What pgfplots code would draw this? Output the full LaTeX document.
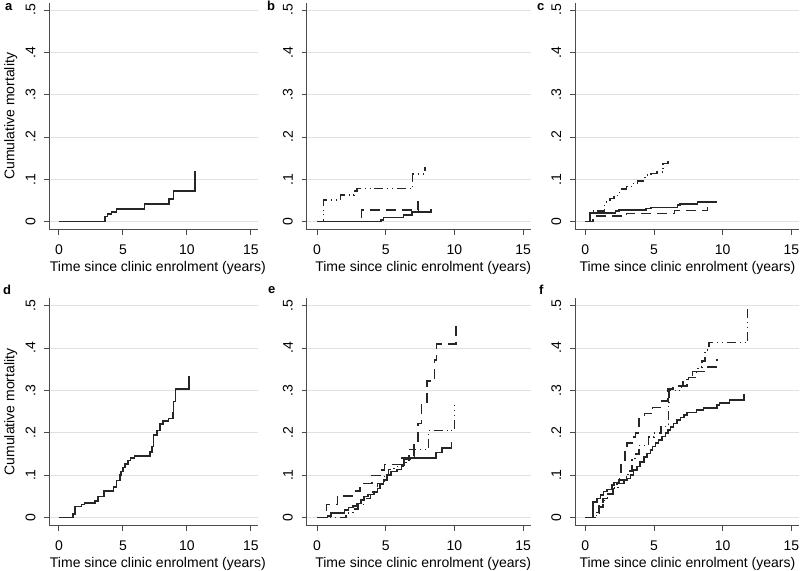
\documentclass[border=0pt]{standalone}
\usepackage{fontspec}
\setmainfont{Liberation Sans}
\usepackage{pgfplots}
\pgfplotsset{compat=1.18}
\pgfplotsset{
  km/.style={scale only axis, height=227.4bp, xmin=-0.75, xmax=15.55, ymin=-0.0196, ymax=0.5175,
    axis lines=left, axis line style={-, line width=1bp, black!70},
    xtick={0,5,10,15}, ytick={0,0.1,0.2,0.3,0.4,0.5}, yticklabels={0,.1,.2,.3,.4,.5},
    tick align=outside, major tick length=5bp,
    every tick/.style={line width=1bp, black!70},
    ymajorgrids, grid style={line width=1bp, black!12},
    yticklabel style={rotate=90, anchor=south},
    yticklabel shift=4bp, xticklabel shift=5bp,
    /pgf/number format/assume math mode=true,
    xlabel={Time since clinic enrolment (years)},
    xlabel style={at={(axis description cs:0.52,-0.1834)}, anchor=base, inner sep=0pt},
    font=\fontsize{14bp}{16bp}\selectfont},
  kmy/.style={ylabel={Cumulative mortality},
    ylabel style={at={(axis description cs:-0.185,0.5)}, anchor=center, inner sep=0pt}},
  kmr/.style={xlabel style={at={(axis description cs:0.502,-0.1834)}}},
  s1/.style={const plot, line width=1.6bp, black!85},
  s2/.style={const plot, line width=1.6bp, black!85, dash pattern=on 10bp off 6bp},
  s3/.style={const plot, line width=1.6bp, black!85, dash pattern=on 9bp off 4bp on 0.8bp off 4bp on 0.8bp off 4bp},
}
\begin{document}
\fontsize{14bp}{16bp}\selectfont
\begin{tikzpicture}
\path[use as bounding box] (0bp,0bp) rectangle (800bp,571bp);
% panel letters
\node[anchor=base west, inner sep=0pt, font=\fontsize{13bp}{14bp}\selectfont\bfseries] at (5bp,560.3bp) {a};
\node[anchor=base west, inner sep=0pt, font=\fontsize{13bp}{14bp}\selectfont\bfseries] at (267bp,560.3bp) {b};
\node[anchor=base west, inner sep=0pt, font=\fontsize{13bp}{14bp}\selectfont\bfseries] at (537bp,560.3bp) {c};
\node[anchor=base west, inner sep=0pt, font=\fontsize{13bp}{14bp}\selectfont\bfseries] at (3bp,276bp) {d};
\node[anchor=base west, inner sep=0pt, font=\fontsize{13bp}{14bp}\selectfont\bfseries] at (268bp,277bp) {e};
\node[anchor=base west, inner sep=0pt, font=\fontsize{13bp}{14bp}\selectfont\bfseries] at (539bp,276bp) {f};

% ---- a
\begin{axis}[km, kmy, width=208.7bp, at={(49.3bp,341bp)}, anchor=south west]
\addplot[s1] coordinates {(0,0)(3.6,0.012)(3.8,0.018)(4.1,0.023)(4.5,0.030)(6.7,0.042)(8.6,0.053)(8.95,0.073)(10.65,0.12)};
\end{axis}
% ---- b
\begin{axis}[km, width=224bp, at={(306.7bp,341bp)}, anchor=south west]
\addplot[s1] coordinates {(0,0)(4.65,0.004)(4.85,0.010)(6.3,0.016)(6.9,0.023)(8.3,0.031)};
\addplot[s2] coordinates {(0,0)(3.25,0.027)(7.35,0.058)};
\addplot[s3] coordinates {(0,0)(0.48,0.051)(1.7,0.063)(2.7,0.072)(2.9,0.078)(6.95,0.112)(7.85,0.13)};
\end{axis}
% ---- c
\begin{axis}[km, kmr, width=224bp, at={(575bp,341bp)}, anchor=south west]
\addplot[s1] coordinates {(0,0)(0.33,0.021)(2.2,0.025)(2.45,0.028)(4.4,0.031)(4.8,0.034)(6.7,0.040)(6.9,0.042)(8.15,0.046)(9.55,0.05)};
\addplot[s2] coordinates {(0,0)(0.55,0.013)(3.0,0.019)(6.5,0.026)(8.9,0.034)};
\addplot[s3] coordinates {(0,0)(0.35,0.025)(1.4,0.047)(1.8,0.055)(2.1,0.062)(2.5,0.077)(3.0,0.083)(3.4,0.09)(3.8,0.096)(4.35,0.11)(4.8,0.114)(5.2,0.117)(5.65,0.137)(6.0,0.144)};
\end{axis}
% ---- d
\begin{axis}[km, kmy, width=208.7bp, at={(49.3bp,45.3bp)}, anchor=south west]
\addplot[s1] coordinates {(0,0)(1.12,0.008)(1.25,0.026)(1.75,0.030)(2.0,0.034)(2.8,0.039)(3.05,0.049)(3.5,0.063)(4.25,0.072)(4.5,0.087)(4.75,0.10)(4.85,0.108)(5.0,0.118)(5.15,0.126)(5.4,0.134)(5.6,0.141)(5.9,0.145)(7.1,0.155)(7.25,0.167)(7.4,0.195)(7.65,0.205)(7.9,0.22)(8.15,0.227)(8.55,0.234)(8.9,0.248)(8.95,0.274)(9.1,0.303)(10.15,0.334)};
\end{axis}
% ---- e
\begin{axis}[km, width=224bp, at={(306.7bp,45.3bp)}, anchor=south west]
\addplot[s1] coordinates {(0,0)(0.75,0.004)(1.0,0.010)(2.0,0.017)(2.3,0.023)(2.6,0.027)(2.9,0.033)(3.2,0.041)(3.4,0.049)(3.7,0.054)(4.15,0.06)(4.4,0.068)(4.6,0.078)(4.85,0.088)(5.1,0.10)(5.4,0.108)(5.8,0.113)(6.15,0.124)(6.35,0.138)(6.8,0.141)(8.65,0.153)(9.1,0.164)(9.8,0.178)};
\addplot[s2] coordinates {(0,0)(0.7,0.03)(1.5,0.051)(2.8,0.062)(3.15,0.08)(4.0,0.099)(4.75,0.112)(4.9,0.125)(6.2,0.14)(6.7,0.16)(7.05,0.18)(7.35,0.222)(7.6,0.267)(8.0,0.322)(8.55,0.372)(8.7,0.409)(10.1,0.462)};
\addplot[s3] coordinates {(0,0)(2.1,0.01)(2.6,0.02)(3.0,0.03)(3.4,0.045)(3.9,0.06)(4.4,0.08)(4.9,0.10)(5.2,0.113)(5.6,0.12)(6.3,0.13)(6.7,0.145)(7.05,0.16)(8.1,0.205)(10.0,0.265)};
\end{axis}
% ---- f
\begin{axis}[km, kmr, width=224bp, at={(575bp,45.3bp)}, anchor=south west]
\addplot[s1] coordinates {(0,0)(0.56,0.037)(0.85,0.045)(1.1,0.053)(1.33,0.061)(1.58,0.066)(1.94,0.076)(2.1,0.082)(2.43,0.088)(3.03,0.092)(3.28,0.10)(3.52,0.112)(3.76,0.12)(4.0,0.131)(4.25,0.143)(4.49,0.151)(4.73,0.159)(4.9,0.167)(5.1,0.176)(5.34,0.183)(5.58,0.191)(5.83,0.199)(6.0,0.206)(6.19,0.214)(6.43,0.222)(6.68,0.23)(6.92,0.236)(7.16,0.242)(7.41,0.248)(8.1,0.254)(8.6,0.259)(9.6,0.266)(9.75,0.27)(10.5,0.277)(11.55,0.292)};
\addplot[s2] coordinates {(0,0)(0.7,0.012)(1.0,0.03)(1.3,0.045)(1.6,0.056)(2.0,0.068)(2.3,0.08)(2.5,0.1)(2.6,0.125)(2.9,0.16)(3.05,0.176)(3.55,0.19)(3.65,0.2)(3.9,0.234)(4.3,0.245)(4.9,0.26)(5.6,0.275)(6.0,0.303)(6.4,0.31)(7.1,0.32)(7.5,0.33)(8.1,0.345)(8.8,0.355)(9.6,0.375)};
\addplot[s3] coordinates {(0,0)(0.8,0.01)(1.0,0.025)(1.3,0.04)(1.6,0.055)(2.0,0.07)(2.4,0.08)(2.8,0.095)(3.1,0.11)(3.4,0.135)(3.6,0.15)(3.9,0.17)(4.4,0.172)(4.6,0.19)(5.0,0.2)(5.5,0.215)(5.9,0.22)(6.05,0.27)(6.1,0.3)(6.7,0.3)(7.0,0.31)(7.4,0.33)(7.8,0.345)(8.2,0.355)(8.5,0.37)(8.7,0.395)(9.0,0.413)(11.8,0.5)};
\end{axis}
\end{tikzpicture}
\end{document}
